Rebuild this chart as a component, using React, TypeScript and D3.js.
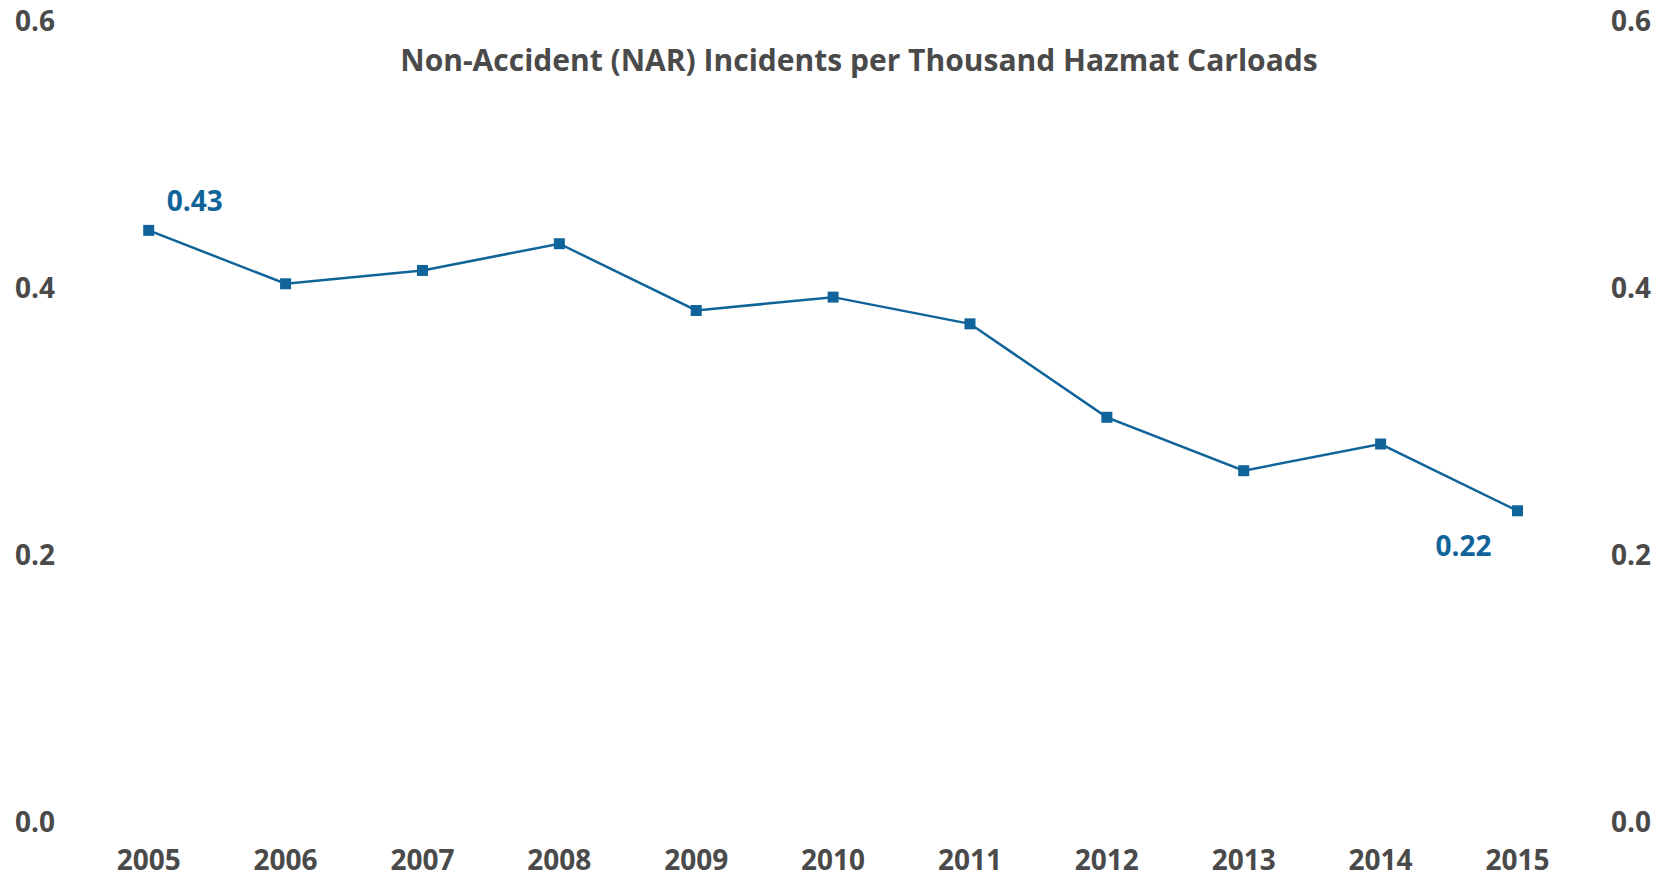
import React from "react";
import * as d3 from "d3";

const years = ["2005","2006","2007","2008","2009","2010","2011","2012","2013","2014","2015"];
const values = [0.43, 0.39, 0.40, 0.42, 0.37, 0.38, 0.36, 0.29, 0.25, 0.27, 0.22];
const yTicks = [0, 0.2, 0.4, 0.6];
const title = "Non-Accident (NAR) Incidents per Thousand Hazmat Carloads";

const W = 1665, H = 875;
const BLUE = "#10649a";
const GREY = "#4a4a4a";
const FONT = "'Open Sans', sans-serif";

export default function App() {
  const x = d3.scalePoint<string>().domain(years).range([148.7, 1517.5]);
  const y = d3.scaleLinear().domain([0, 0.6]).range([804.5, 3.4]);
  const line = d3.line<number>().x((_, i) => x(years[i])!).y((d) => y(d));
  const ms = 11;
  return (
    <svg width={W} height={H} style={{ position: "absolute", left: 0, top: 0 }} fontFamily={FONT}>
      <text x={859} y={59} textAnchor="middle" dominantBaseline="central" fontSize={30} fontWeight={700} fill={GREY}>{title}</text>
      {yTicks.map((t) => (
        <g key={t}>
          <text x={15} y={y(t) + 16.5} dominantBaseline="central" fontSize={28} fontWeight={700} fill={GREY}>{t.toFixed(1)}</text>
          <text x={1651} y={y(t) + 16.5} textAnchor="end" dominantBaseline="central" fontSize={28} fontWeight={700} fill={GREY}>{t.toFixed(1)}</text>
        </g>
      ))}
      {years.map((yr) => (
        <text key={yr} x={x(yr)} y={859} textAnchor="middle" dominantBaseline="central" fontSize={28} fontWeight={700} fill={GREY}>{yr}</text>
      ))}
      <path d={line(values)!} fill="none" stroke={BLUE} strokeWidth={2.5} />
      {values.map((v, i) => (
        <rect key={i} x={x(years[i])! - ms / 2} y={y(v) - ms / 2} width={ms} height={ms} fill={BLUE} />
      ))}
      <text x={x(years[0])! + 46} y={y(values[0]) - 30} textAnchor="middle" dominantBaseline="central" fontSize={28} fontWeight={700} fill={BLUE}>{values[0].toFixed(2)}</text>
      <text x={x(years[10])! - 54} y={y(values[10]) + 34} textAnchor="middle" dominantBaseline="central" fontSize={28} fontWeight={700} fill={BLUE}>{values[10].toFixed(2)}</text>
    </svg>
  );
}
